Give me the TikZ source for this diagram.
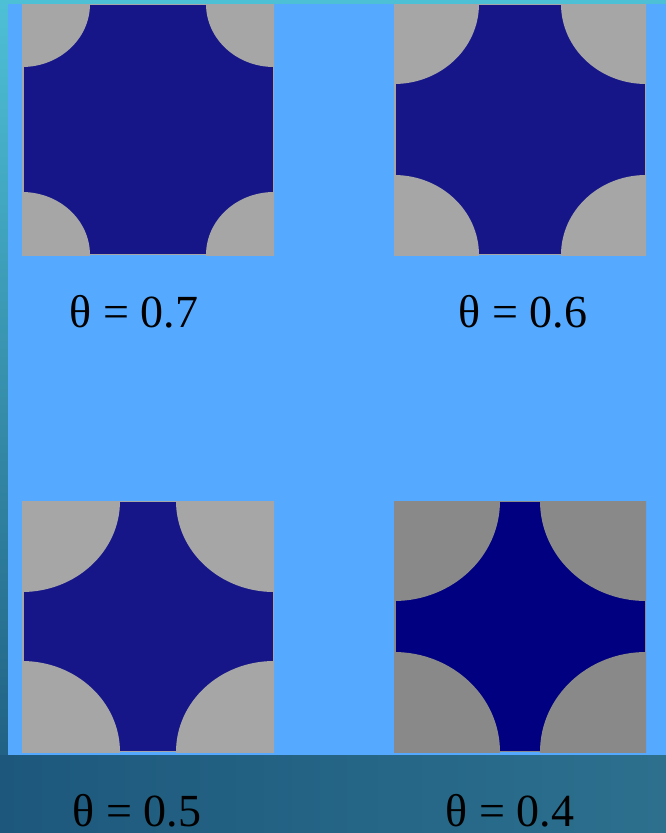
\documentclass[tikz,border=0pt]{standalone}
\usepackage{fontspec}
\setmainfont{Liberation Serif}
\definecolor{lightbg}{RGB}{85,170,255}
\definecolor{tealtop}{RGB}{78,192,214}
\definecolor{tealbot}{RGB}{28,88,124}
\definecolor{botleft}{RGB}{29,88,124}
\definecolor{botright}{RGB}{44,112,142}
\definecolor{poregray}{RGB}{166,166,166}
\definecolor{poregraydark}{RGB}{137,137,137}
\definecolor{solidblue}{RGB}{22,22,137}
\definecolor{navyblue}{RGB}{0,0,128}
\newcommand\poropanel[6]{%
  \fill[#5] (#1,#2) rectangle ++(252,251);
  \fill[#6] (#1+1.5,#2+1) rectangle ++(249,249);
  \begin{scope}
    \clip (#1,#2) rectangle ++(252,251);
    \fill[#5] (#1,#2) ellipse [x radius=#3, y radius=#4];
    \fill[#5] (#1+252,#2) ellipse [x radius=#3, y radius=#4];
    \fill[#5] (#1,#2+251) ellipse [x radius=#3, y radius=#4];
    \fill[#5] (#1+252,#2+251) ellipse [x radius=#3, y radius=#4];
  \end{scope}}
\tikzset{lab/.style={anchor=base, inner sep=0pt, text depth=0pt, font=\fontsize{46}{50}\selectfont, text=black}}
\begin{document}
\begin{tikzpicture}[x=1pt,y=-1pt]
\useasboundingbox (0,0) rectangle (666,833);
\shade[top color=tealtop, bottom color=tealbot] (0,0) rectangle (666,833);
\shade[left color=botleft, right color=botright] (0,755) rectangle (666,833);
\fill[lightbg] (8,4) rectangle (666,755);
\poropanel{22}{4}{68}{63}{poregray}{solidblue}
\poropanel{394}{4}{85}{80}{poregray}{solidblue}
\poropanel{22}{501}{98}{91}{poregray}{solidblue}
\poropanel{394}{501}{106}{100}{poregraydark}{navyblue}
\node[lab] (l1) at (134,327) {θ = 0.7};
\node[lab] (l2) at (523,327) {θ = 0.6};
\node[lab] (l3) at (137,826) {θ = 0.5};
\node[lab] (l4) at (510,826) {θ = 0.4};
\end{tikzpicture}
\end{document}
